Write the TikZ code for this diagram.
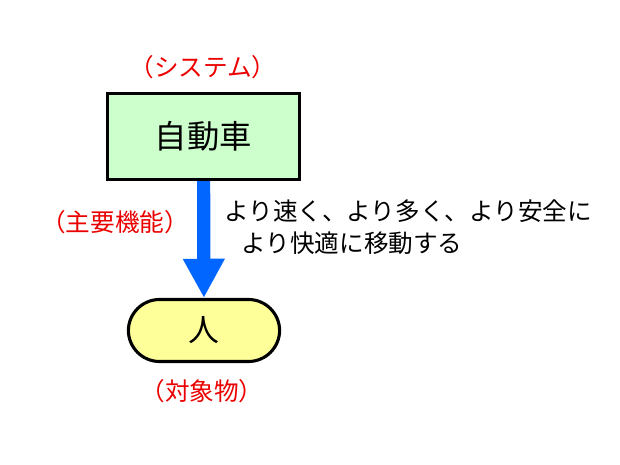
\documentclass[tikz,border=0pt]{standalone}
\usepackage{fontspec}
\setmainfont{Noto Sans CJK JP}
\usepackage{tikz}
\usetikzlibrary{arrows.meta,positioning}

\definecolor{boxgreen}{RGB}{204,255,204}
\definecolor{boxyellow}{RGB}{255,255,153}
\definecolor{arrowblue}{RGB}{0,102,255}
\definecolor{labelred}{RGB}{235,0,0}

\begin{document}
\begin{tikzpicture}[x=0.025cm,y=-0.025cm,
		sysbox/.style={draw,line width=2.2pt,fill=boxgreen,minimum width=4.8cm,minimum height=2.15cm,font=\fontsize{23pt}{27pt}\selectfont},
		objbox/.style={draw,line width=2.2pt,fill=boxyellow,rounded corners=0.78cm,minimum width=3.78cm,minimum height=1.55cm,font=\fontsize{22pt}{26pt}\selectfont},
		tag/.style={text=labelred,font=\fontsize{17.5pt}{20pt}\selectfont},
		funcarrow/.style={draw=arrowblue,line width=0.33cm,-{Triangle[width=0.98cm,length=0.98cm]}}]
		\useasboundingbox (0,0) rectangle (620,465);
		\draw
			(203.5,136.5) node [sysbox] (car) {自動車}
			(204,330.5) node [objbox] (man) {人}
			(203,67) node [tag] (sys) {（システム）}
			(115,222) node [tag] (func) {（主要機能）}
			(202,391) node [tag] (obj) {（対象物）}
			;
		\draw[funcarrow] (car) -- (man);
		\node [anchor=west,align=left,inner sep=0pt,font=\fontsize{17.5pt}{22.7pt}\selectfont] (desc) at (224,227)
			{より速く、より多く、より安全に\\\hspace{0.7em}より快適に移動する};
	\end{tikzpicture}
\end{document}
